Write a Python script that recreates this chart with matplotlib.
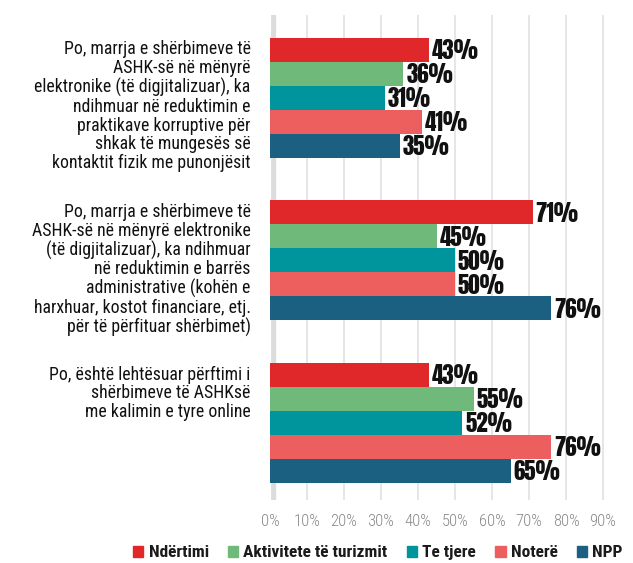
import matplotlib
matplotlib.use("Agg")
import matplotlib.pyplot as plt
import matplotlib.transforms as mtransforms
from matplotlib.patches import Patch

questions = [
    "Po, marrja e shërbimeve të\nASHK-së në mënyrë\nelektronike (të digjitalizuar), ka\nndihmuar në reduktimin e\npraktikave korruptive për\nshkak të mungesës së\nkontaktit fizik me punonjësit",
    "Po, marrja e shërbimeve të\nASHK-së në mënyrë elektronike\n(të digjitalizuar), ka ndihmuar\nnë reduktimin e barrës\nadministrative (kohën e\nharxhuar, kostot financiare, etj.\npër të përfituar shërbimet)",
    "Po, është lehtësuar përftimi i\nshërbimeve të ASHKsë\nme kalimin e tyre online",
]
series = ["Ndërtimi", "Aktivitete të turizmit", "Te tjere", "Noterë", "NPP"]
ndertimi = [43, 71, 43]
turizem = [36, 45, 55]
te_tjere = [31, 50, 52]
notere = [41, 50, 76]
npp = [35, 76, 65]
values = [ndertimi, turizem, te_tjere, notere, npp]
colors = ["#e0282a", "#6fba7a", "#00959c", "#ec5f5e", "#1b6080"]
ticks = [0, 10, 20, 30, 40, 50, 60, 70, 80, 90]

cond = ["Roboto Condensed", "DejaVu Sans"]
heavy = ["Anton", "Oswald", "DejaVu Sans"]

fig = plt.figure(figsize=(6.33, 5.63), dpi=100)
ax = fig.add_axes([270 / 633, 63 / 563, 351.5 / 633, 485 / 563])

# y in pixel-like units, top to bottom
centers = [97.5, 260, 422.5]
bh = 24
for i, (vals, c) in enumerate(zip(values, colors)):
    ys = [g + (i - 2) * bh for g in centers]
    ax.barh(ys, vals, height=bh, color=c, zorder=3)
    for y, v in zip(ys, vals):
        ax.text(v + 0.8, y + 1, f"{v}%", va="center", ha="left",
                fontsize=16.5, family=heavy, color="#111111", zorder=4)

trans = mtransforms.blended_transform_factory(ax.transAxes, ax.transData)
for g, q in zip(centers, questions):
    ax.text(-0.055, g - 2.5 * bh + 3, q, transform=trans, ha="right", va="top",
            multialignment="right", fontsize=12.8, family=cond,
            color="#111111", linespacing=1.05)

ax.set_xlim(0, 95)
ax.set_ylim(500, 15)
ax.set_xticks(ticks)
ax.set_xticklabels([f"{t}%" for t in ticks], family=cond, fontsize=12,
                   fontweight="light", color="#8a8a8a")
ax.tick_params(axis="x", length=0, pad=10)
ax.set_yticks([])
for s in ax.spines.values():
    s.set_visible(False)
for t in ticks[1:]:
    ax.axvline(t, color="#e2e2e2", lw=1.2, zorder=1)
ax.axvline(0.6, color="#dcdcdc", lw=6, zorder=2)
ax.axvline(-0.3, color="white", lw=3, zorder=2)

handles = [Patch(color=c) for c in colors]
leg = fig.legend(handles, series, loc="center", bbox_to_anchor=(0.597, 0.018), ncol=5,
                 frameon=False, handlelength=0.6, handleheight=0.6, handletextpad=0.3,
                 columnspacing=1.1, prop={"family": cond, "size": 12.5, "weight": "bold"})
for t in leg.get_texts():
    t.set_color("#1a1a1a")

fig.savefig("out.png", dpi=100)
